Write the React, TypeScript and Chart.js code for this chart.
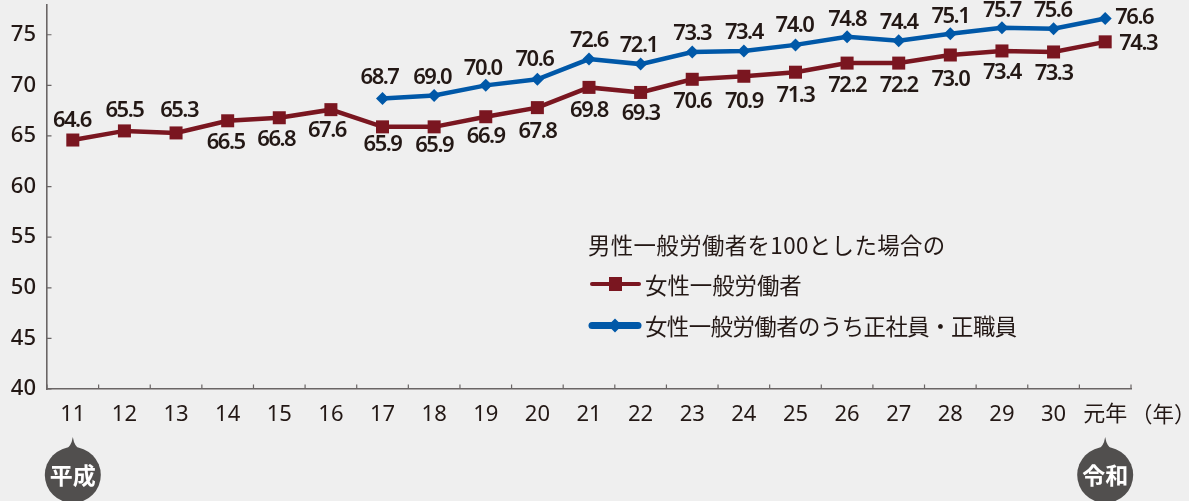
import React, { useEffect, useRef } from "react";
import { Chart, registerables } from "chart.js";

Chart.register(...registerables);

const years = ["11","12","13","14","15","16","17","18","19","20","21","22","23","24","25","26","27","28","29","30","元年"];
const allWomen = [64.6,65.5,65.3,66.5,66.8,67.6,65.9,65.9,66.9,67.8,69.8,69.3,70.6,70.9,71.3,72.2,72.2,73.0,73.4,73.3,74.3];
const regularWomen = [null,null,null,null,null,null,68.7,69.0,70.0,70.6,72.6,72.1,73.3,73.4,74.0,74.8,74.4,75.1,75.7,75.6,76.6];
const legendTitle = "男性一般労働者を100とした場合の";
const allWomenLabel = "女性一般労働者";
const regularWomenLabel = "女性一般労働者のうち正社員・正職員";
const yearUnit = "（年）";
const eraLabels = [{ index: 0, text: "平成" }, { index: 20, text: "令和" }];

// label placement relative to each point [dx, dy]
const allWomenOffsets = [[-1,-19],[0,-20],[3,-22],[-2,22],[-3,22],[-4,21],[0,18],[0,19],[0,20],[0,24],[0,23],[0,21],[0,22],[0,25],[0,24],[0,23],[0,23],[0,25],[0,22],[0,22],[33,2]];
const regularWomenOffsets = [null,null,null,null,null,null,[-3,-21],[-2,-18],[-3,-17],[-3,-20],[0,-18],[-2,-18],[0,-18],[0,-18],[-1,-19],[0,-17],[0,-18],[0,-17],[0,-17],[-1,-18],[29,-1]];

const BG = "#efefef";
const TEXT = "#231815";
const AXIS = "#6a6565";
const RED = "#7a1620";
const BLUE = "#0058a8";
const FONT = '"Noto Sans", "Noto Sans CJK JP", sans-serif';
const CJK = '"Noto Sans CJK JP", "Noto Sans", sans-serif';

const decorPlugin = {
  id: "decor",
  beforeDraw(chart: any) {
    const { ctx, width, height } = chart;
    ctx.save();
    ctx.fillStyle = BG;
    ctx.fillRect(0, 0, width, height);
    ctx.restore();
  },
  afterDraw(chart: any) {
    const { ctx, scales } = chart;
    const x = scales.x, y = scales.y;
    ctx.save();

    // inward ticks
    ctx.strokeStyle = AXIS;
    ctx.lineWidth = 1.2;
    ctx.beginPath();
    for (let i = 0; i <= years.length; i++) {
      const px = x.getPixelForValue(i - 0.5);
      ctx.moveTo(px, y.bottom);
      ctx.lineTo(px, y.bottom - 4.5);
    }
    y.ticks.forEach((t: any) => {
      const py = y.getPixelForValue(t.value);
      ctx.moveTo(x.left, py);
      ctx.lineTo(x.left + 4.5, py);
    });
    ctx.stroke();

    // value labels
    ctx.fillStyle = TEXT;
    ctx.textAlign = "center";
    ctx.textBaseline = "middle";
    ctx.font = `600 22px ${FONT}`;
    ctx.letterSpacing = "-1.5px";
    const drawLabels = (values: (number | null)[], offsets: any[]) => {
      values.forEach((v, i) => {
        if (v == null) return;
        const [dx, dy] = offsets[i];
        ctx.fillText(v.toFixed(1), x.getPixelForValue(i) + dx, y.getPixelForValue(v) + dy);
      });
    };
    drawLabels(allWomen, allWomenOffsets);
    drawLabels(regularWomen, regularWomenOffsets);
    ctx.letterSpacing = "0px";

    // unit
    ctx.textAlign = "left";
    ctx.font = `400 21.5px ${CJK}`;
    ctx.fillText(yearUnit, 1131, 414);

    // legend
    ctx.font = `400 22.4px ${CJK}`;
    ctx.letterSpacing = "0.4px";
    ctx.fillText(legendTitle, 588, 245);
    ctx.letterSpacing = "0px";
    ctx.fillText(allWomenLabel, 645, 285);
    ctx.letterSpacing = "-0.53px";
    ctx.fillText(regularWomenLabel, 645, 326);
    ctx.letterSpacing = "0px";
    ctx.lineCap = "round";
    ctx.strokeStyle = RED;
    ctx.lineWidth = 4;
    ctx.beginPath(); ctx.moveTo(592, 284); ctx.lineTo(639, 284); ctx.stroke();
    ctx.fillStyle = RED;
    ctx.fillRect(609, 277, 13, 14);
    ctx.strokeStyle = BLUE;
    ctx.lineWidth = 7;
    ctx.beginPath(); ctx.moveTo(592, 325.5); ctx.lineTo(638, 325.5); ctx.stroke();
    ctx.fillStyle = BLUE;
    ctx.beginPath();
    ctx.moveTo(615, 318.5); ctx.lineTo(622, 325.5); ctx.lineTo(615, 332.5); ctx.lineTo(608, 325.5);
    ctx.closePath(); ctx.fill();

    // era badges
    eraLabels.forEach(({ index, text }) => {
      const cx = x.getPixelForValue(index);
      const cy = 475;
      ctx.fillStyle = "#514f4e";
      ctx.beginPath();
      ctx.arc(cx, cy, 28, 0, Math.PI * 2);
      ctx.fill();
      ctx.beginPath();
      ctx.moveTo(cx, 437);
      ctx.quadraticCurveTo(cx + 1.5, 447, cx + 8, 450);
      ctx.lineTo(cx - 8, 450);
      ctx.quadraticCurveTo(cx - 1.5, 447, cx, 437);
      ctx.closePath();
      ctx.fill();
      ctx.fillStyle = "#ffffff";
      ctx.textAlign = "center";
      ctx.font = `700 23px ${CJK}`;
      ctx.fillText(text, cx, cy);
    });
    ctx.restore();
  },
};

const noPadding = (s: any) => {
  s.paddingTop = 0; s.paddingBottom = 0; s.paddingLeft = 0; s.paddingRight = 0;
};

export default function App() {
  const ref = useRef<HTMLCanvasElement | null>(null);
  useEffect(() => {
    const chart = new Chart(ref.current as HTMLCanvasElement, {
      type: "line",
      data: {
        labels: years,
        datasets: [
          {
            label: regularWomenLabel,
            data: regularWomen,
            borderColor: BLUE,
            backgroundColor: BLUE,
            borderWidth: 4.5,
            pointStyle: "rectRot",
            pointRadius: 6.5,
            pointBorderWidth: 0,
            tension: 0,
            spanGaps: false,
            clip: false,
          },
          {
            label: allWomenLabel,
            data: allWomen,
            borderColor: RED,
            backgroundColor: RED,
            borderWidth: 4.5,
            pointStyle: "rect",
            pointRadius: 9.2,
            pointBorderWidth: 0,
            tension: 0,
            clip: false,
          },
        ],
      } as any,
      options: {
        animation: false,
        responsive: false,
        layout: { autoPadding: false, padding: { top: 5, right: 58, left: 0, bottom: 0 } },
        plugins: { legend: { display: false }, tooltip: { enabled: false } },
        scales: {
          x: {
            type: "category",
            offset: true,
            grid: { display: false, drawTicks: false },
            border: { display: true, color: AXIS, width: 1.6 },
            ticks: { color: TEXT, font: { size: 22, family: FONT, weight: "400" }, padding: 13, maxRotation: 0, autoSkip: false },
            afterFit(s: any) { s.height = 112; noPadding(s); },
          },
          y: {
            type: "linear",
            min: 40,
            max: 77.94,
            grid: { display: false, drawTicks: false },
            border: { display: true, color: AXIS, width: 1.6 },
            ticks: { stepSize: 5, color: TEXT, font: { size: 22, family: FONT, weight: "500" }, padding: 11 },
            afterBuildTicks(s: any) { s.ticks = s.ticks.filter((t: any) => t.value <= 75); },
            afterFit(s: any) { s.width = 47; noPadding(s); },
          },
        },
      } as any,
      plugins: [decorPlugin],
    });
    return () => chart.destroy();
  }, []);
  return (
    <div style={{ position: "fixed", left: 0, top: 0, width: 1189, height: 501, background: BG, overflow: "hidden" }}>
      <canvas ref={ref} width={1189} height={501} style={{ display: "block" }} />
    </div>
  );
}
